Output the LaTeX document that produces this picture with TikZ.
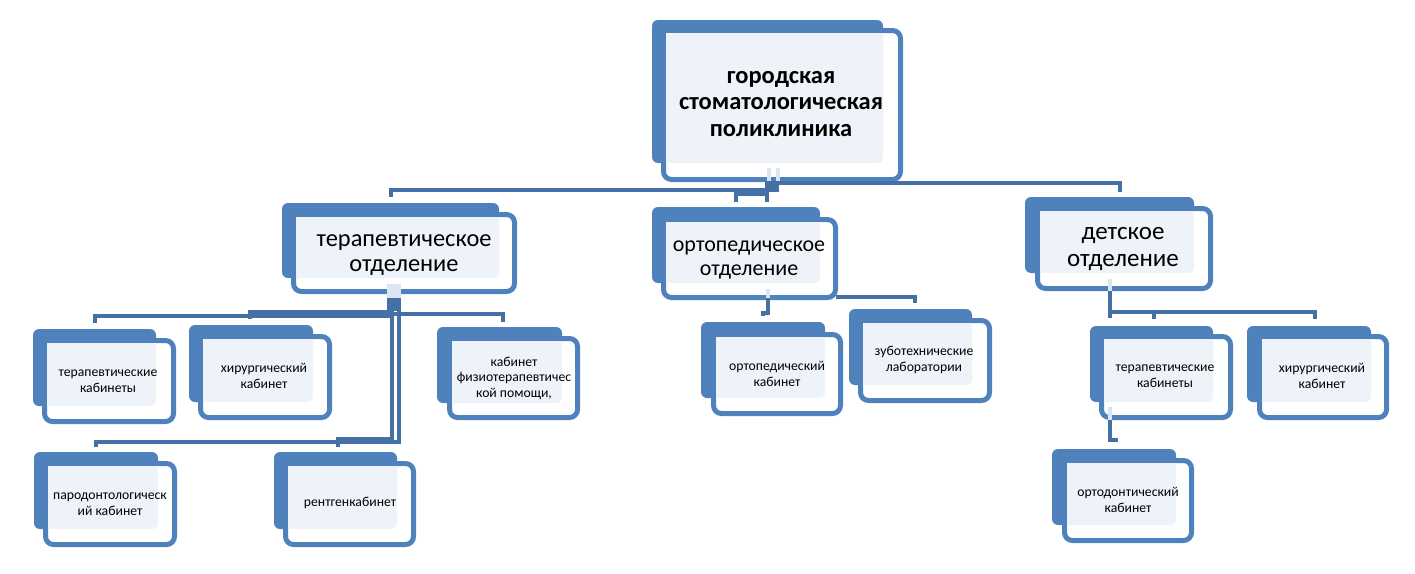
\documentclass[tikz,border=0pt]{standalone}
\usepackage{fontspec}
\setmainfont{Carlito}
\usetikzlibrary{fit,calc}
\definecolor{boxblue}{HTML}{4F81BD}
\definecolor{lightc}{HTML}{EEF3FA}
\definecolor{connc}{HTML}{4470A6}
\definecolor{palec}{HTML}{DCE6F2}
\tikzset{
  backbox/.style={fill=boxblue, draw=none, rounded corners=6pt, inner sep=0pt, outer sep=0pt},
  frontbox/.style={fill=white, draw=boxblue, line width=5pt, rounded corners=8pt, inner sep=0pt, outer sep=0pt},
  conn/.style={draw=connc, line width=4pt},
  pale/.style={draw=palec, line width=4pt},
  ttl/.style={align=center, font=\fontsize{24.5}{26.5}\selectfont\bfseries, inner sep=0pt},
  mid/.style={align=center, font=\fontsize{24.4}{25}\selectfont, inner sep=0pt},
  small/.style={align=center, font=\fontsize{13.7}{15.5}\selectfont, inner sep=0pt},
}
% name, back NW, back SE, front NW (border centre), front SE (border centre)
\newcommand\dbox[5]{%
  \node[backbox, fit={#2 #3}] (#1B) {};
  \node[frontbox, fit={#4 #5}] (#1F) {};
  \coordinate (#1P) at ($(#1F.north west)+(2.5,2.5)$);
  \fill[lightc] (#1P) -- (#1P -| #1B.south east) [rounded corners=5pt] -- (#1B.south east) [sharp corners] -- (#1B.south east -| #1P) -- cycle;
}
\begin{document}
\begin{tikzpicture}[x=1pt,y=-1pt]
\useasboundingbox (0,0) rectangle (1415,573);

\coordinate (jL) at (779,189.5);
\coordinate (jR) at (767,183);
\coordinate (jM) at (767,193.5);

% ---------- boxes ----------
\dbox{top}{(652,20)}{(883,163)}{(663.5,30.5)}{(900.5,179.5)}
\dbox{ter}{(282,203)}{(499,278)}{(293.5,214.5)}{(514.5,291.5)}
\dbox{ort}{(652,207)}{(820,283)}{(663.5,219.5)}{(835.5,297.5)}
\dbox{det}{(1025,197)}{(1194,273)}{(1037.5,208.5)}{(1210.5,288.5)}
\dbox{tka}{(33,329)}{(156,406)}{(44.5,340.5)}{(173.5,421.5)}
\dbox{hia}{(189,325)}{(313,402)}{(200.5,336.5)}{(329.5,417.5)}
\dbox{fiz}{(437,327)}{(562,403)}{(449.5,338.5)}{(577.5,417.5)}
\dbox{par}{(34,452)}{(158,529)}{(45.5,463.5)}{(174.5,544.5)}
\dbox{ren}{(274,452)}{(397,529)}{(285.5,463.5)}{(413.5,544.5)}
\dbox{oka}{(701,322)}{(825,398)}{(713.5,334.5)}{(840.5,413.5)}
\dbox{zub}{(849,309)}{(972,385)}{(860.5,320.5)}{(989.5,400.5)}
\dbox{tkb}{(1090,326)}{(1213,402)}{(1101.5,336.5)}{(1230.5,417.5)}
\dbox{hib}{(1247,326)}{(1371,402)}{(1259.5,336.5)}{(1386.5,417.5)}
\dbox{otd}{(1052,449)}{(1176,525)}{(1064.5,460.5)}{(1191.5,540.5)}

% ---------- connectors ----------
% top level
\draw[pale] (769,168) -- (769,181);
\draw[pale] (777.5,168) -- (777.5,181);
\draw[conn] (jL) -| ([yshift=6pt]terB.north);
\draw[conn] (jR) -| ([xshift=10.5pt,yshift=5pt]detB.north);
\fill[connc] (765,181) rectangle (779,191.5);
\draw[conn] (jR) -- (767,202);
\draw[conn] (jM) -| ([yshift=5pt]ortB.north);

% therapeutic department
\fill[palec] (387,284) rectangle (401,298);
\fill[connc] (387,298) rectangle (401,311);
\coordinate (tA) at (394,315.5);
\coordinate (tB) at (394,312);
\coordinate (tC) at (394,313.5);
\draw[conn] (tA) -| ([yshift=6pt]tkaB.north);
\draw[conn] (tB) -| ([xshift=-1pt,yshift=6pt]hiaB.north);
\draw[conn] (tC) -| ([xshift=3.5pt,yshift=5pt]fizB.north);
\draw[conn] (398.5,308) |- ([yshift=10pt]parB.north) -- ([yshift=5pt]parB.north);
\draw[conn] (391.5,308) |- ([xshift=2pt,yshift=13pt]renB.north) -- ([xshift=2pt,yshift=5pt]renB.north);

% orthopedic department
\fill[palec] (765.5,289) rectangle (770,300);
\draw[conn] (767.5,298) -- (767.5,313) -| ([yshift=6pt]okaB.north);
\draw[conn] (ortF.east |- 0,297) -| ([xshift=4.5pt,yshift=6pt]zubB.north);

% children's department
\fill[palec] (1107.5,279) rectangle (1112,291);
\draw[conn] (1109.5,291) -- (1109.5,318);
\draw[conn] (1109.5,311.5) -| ([xshift=2.5pt,yshift=7pt]tkbB.north);
\draw[conn] (1109.5,311.5) -| ([xshift=6pt,yshift=7pt]hibB.north);
\fill[palec] (1107.5,407) rectangle (1112,420);
\draw[conn] (1109.5,420) -- (1109.5,440) -| ([xshift=2pt,yshift=7pt]otdB.north);

% ---------- texts ----------
\node[ttl] (topT) at (781,104) {городская\\стоматологическая\\поликлиника};
\node[mid] (terT) at (404,255) {терапевтическое\\отделение};
\node[mid, font=\fontsize{22}{24}\selectfont] (ortT) at (749,260) {ортопедическое\\отделение};
\node[mid, font=\fontsize{25}{27}\selectfont] (detT) at (1123,249) {детское\\отделение};
\node[small] (tkaT) at (108,381) {терапевтические\\кабинеты};
\node[small] (hiaT) at (264,376) {хирургический\\кабинет};
\node[small] (fizT) at (514,378) {кабинет\\физиотерапевтичес\\кой помощи,};
\node[small] (parT) at (110,504) {пародонтологическ\\ий кабинет};
\node[small] (renT) at (350,503) {рентгенкабинет};
\node[small] (okaT) at (777,374) {ортопедический\\кабинет};
\node[small] (zubT) at (924,360) {зуботехнические\\лаборатории};
\node[small] (tkbT) at (1165,376) {терапевтические\\кабинеты};
\node[small] (hibT) at (1322,376) {хирургический\\кабинет};
\node[small] (otdT) at (1128,500) {ортодонтический\\кабинет};
\end{tikzpicture}
\end{document}
